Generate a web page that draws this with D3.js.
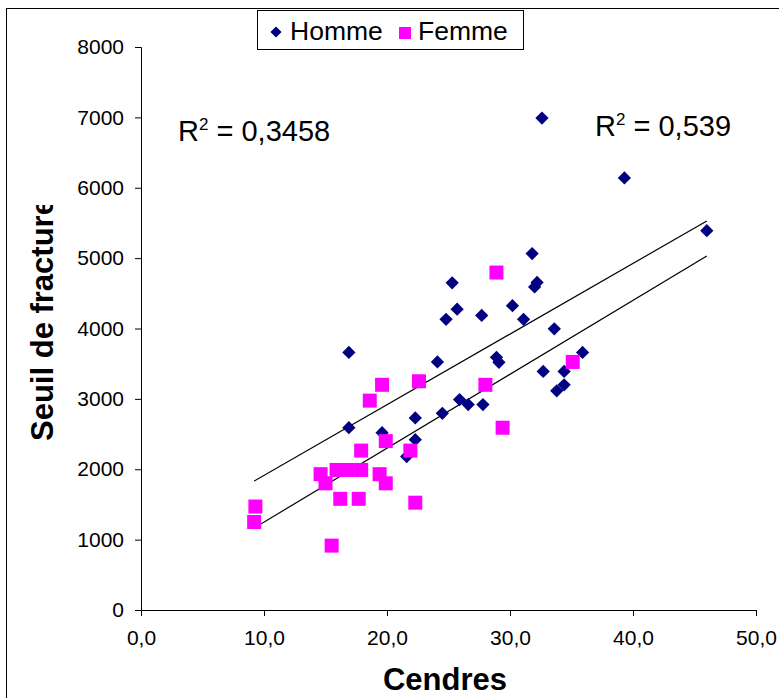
<!DOCTYPE html>
<html>
<head>
<meta charset="utf-8">
<script src="https://cdn.jsdelivr.net/npm/d3@7"></script>
<style>
  body { margin: 0; background: #fff; }
  svg { display: block; font-family: Arial, "Liberation Sans", sans-serif; }
</style>
</head>
<body>
<svg width="779" height="698"></svg>
<script>
// Cendres / seuil de fracture, par sexe
const hommeX = [16.9, 16.9, 19.6, 21.6, 22.3, 22.3, 24.5, 24.1, 24.8, 25.3, 25.7, 25.9, 26.6, 27.7, 27.8, 28.9,
  29.1, 30.2, 31.1, 31.8, 32.0, 32.2, 32.6, 32.7, 33.6, 33.8, 34.4, 34.4, 35.9, 39.3, 46.0];
const hommeY = [3660, 2590, 2520, 2180, 2420, 2730, 2795, 3525, 4130, 4650, 4275, 2990, 2920, 4185, 2920, 3590,
  3520, 4325, 4130, 5065, 4590, 4655, 6990, 3390, 3995, 3115, 3200, 3390, 3660, 6140, 5390];
const femmeX = [9.3, 9.2, 14.6, 15.0, 15.9, 16.8, 17.9, 19.4, 19.9, 16.2, 17.7, 22.3, 15.5, 17.9, 19.9, 21.9,
  18.6, 19.6, 22.6, 28.9, 28.0, 29.4, 35.1];
const femmeY = [1470, 1250, 1930, 1800, 1990, 1990, 1990, 1930, 1800, 1580, 1580, 1525, 915, 2265, 2400, 2265,
  2975, 3200, 3250, 4795, 3200, 2590, 3525];

// trend lines
const trendNames = ["Homme", "Femme"];
const trendIntercept = [909, 199];
const trendSlope = [100.4, 105.0];
const trendRange = [9.2, 46.0];
const r2Labels = ["0,3458", "0,539"];

const xTicks = [0, 10, 20, 30, 40, 50];
const yTicks = [0, 1000, 2000, 3000, 4000, 5000, 6000, 7000, 8000];

const navy = "#000080", pink = "#FF00FF";

const svg = d3.select("svg");
const x = d3.scaleLinear().domain([0, 50]).range([141, 756]);
const y = d3.scaleLinear().domain([0, 8000]).range([610, 47]);
const fr = d3.formatLocale({decimal: ",", thousands: "", grouping: [3], currency: ["", "€"]});

// outer chart frame
svg.append("rect")
  .attr("x", 6.5).attr("y", 8.5).attr("width", 900).attr("height", 900)
  .attr("fill", "none").attr("stroke", "#000").attr("stroke-width", 1);

// axes
const xAxis = svg.append("g")
  .attr("transform", "translate(0,610)")
  .call(d3.axisBottom(x).tickValues(xTicks).tickFormat(fr.format(".1f")).tickSize(6).tickPadding(14));
const yAxis = svg.append("g")
  .attr("transform", "translate(141,0)")
  .call(d3.axisLeft(y).tickValues(yTicks).tickFormat(d3.format("d")).tickSize(6).tickPadding(11));
[xAxis, yAxis].forEach(a => {
  a.select(".domain").attr("stroke", "#000");
  a.selectAll(".tick line").attr("stroke", "#000");
  a.selectAll("text").attr("font-size", 21).attr("fill", "#000").attr("font-family", "Arial, 'Liberation Sans'");
});

// axis titles
svg.append("text")
  .attr("x", 445).attr("y", 690)
  .attr("text-anchor", "middle").attr("font-weight", "bold").attr("font-size", 31)
  .text("Cendres");

svg.append("clipPath").attr("id", "ttl")
  .append("rect").attr("x", 0).attr("y", 205).attr("width", 120).attr("height", 500);
svg.append("g").attr("clip-path", "url(#ttl)")
  .append("text")
  .attr("transform", "translate(53,441) rotate(-90)")
  .attr("font-weight", "bold").attr("font-size", 31)
  .text("Seuil de fracture");

// trend lines
svg.append("g").selectAll("line")
  .data(trendNames)
  .join("line")
  .attr("x1", x(trendRange[0])).attr("x2", x(trendRange[1]))
  .attr("y1", (d, i) => y(trendIntercept[i] + trendSlope[i] * trendRange[0]))
  .attr("y2", (d, i) => y(trendIntercept[i] + trendSlope[i] * trendRange[1]))
  .attr("stroke", "#000").attr("stroke-width", 1.2);

// points
const diamond = d3.symbol().type(d3.symbolDiamond2).size(112);
svg.append("g").selectAll("path")
  .data(hommeX)
  .join("path")
  .attr("d", diamond)
  .attr("transform", (d, i) => `translate(${x(d)},${y(hommeY[i])})`)
  .attr("fill", navy);

const sq = 14;
svg.append("g").selectAll("rect")
  .data(femmeX)
  .join("rect")
  .attr("x", d => x(d) - sq / 2)
  .attr("y", (d, i) => y(femmeY[i]) - sq / 2)
  .attr("width", sq).attr("height", sq)
  .attr("fill", pink);

// R2 labels
const r2Pos = [[178, 141], [595, 136]];
r2Labels.forEach((lab, i) => {
  const t = svg.append("text")
    .attr("x", r2Pos[i][0]).attr("y", r2Pos[i][1])
    .attr("font-size", 29);
  t.append("tspan").text("R");
  t.append("tspan").attr("dy", -11).attr("font-size", 17).text("2");
  t.append("tspan").attr("dy", 11).text(" = " + lab);
});

// legend
const lg = svg.append("g");
lg.append("rect")
  .attr("x", 257.5).attr("y", 10.5).attr("width", 266).attr("height", 39)
  .attr("fill", "#fff").attr("stroke", "#000");
lg.append("path")
  .attr("d", d3.symbol().type(d3.symbolDiamond2).size(80))
  .attr("transform", "translate(276,32)")
  .attr("fill", navy);
lg.append("text").attr("x", 290).attr("y", 40).attr("font-size", 26.5).text("Homme");
lg.append("rect").attr("x", 399).attr("y", 27).attr("width", 12).attr("height", 12).attr("fill", pink);
lg.append("text").attr("x", 418).attr("y", 40).attr("font-size", 26.5).text("Femme");
</script>
</body>
</html>
